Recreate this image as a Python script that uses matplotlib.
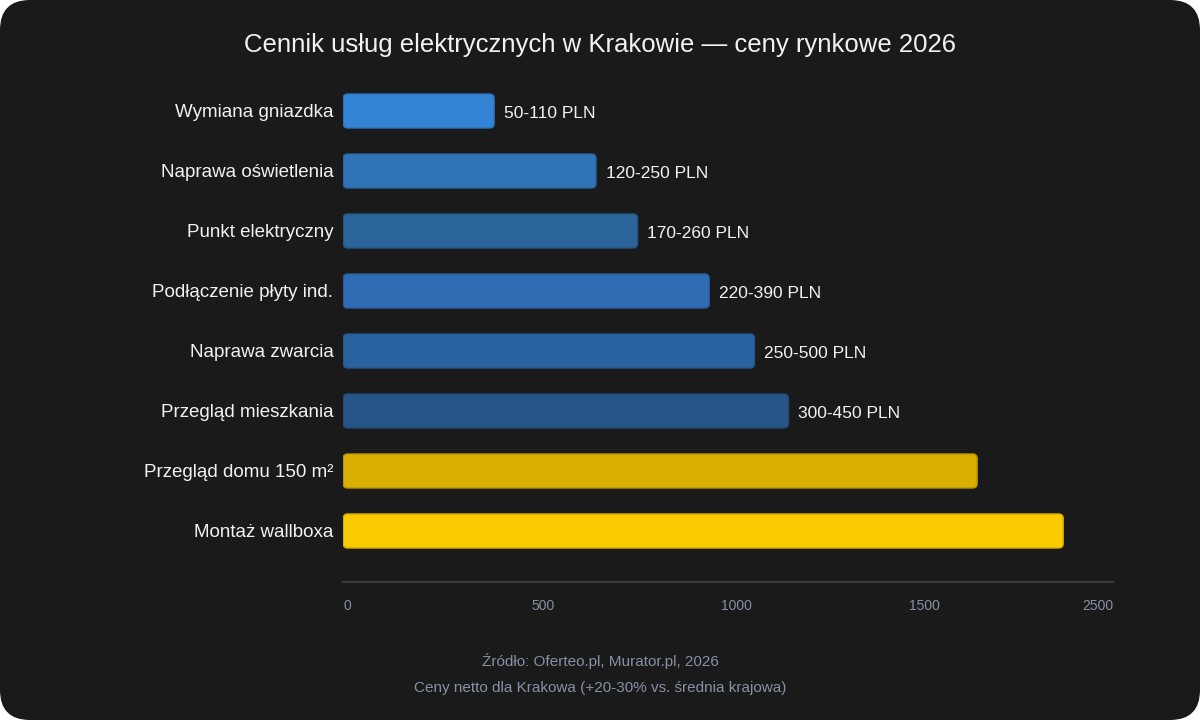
import matplotlib
matplotlib.use("Agg")
import matplotlib.pyplot as plt
from matplotlib.patches import FancyBboxPatch

plt.rcParams['font.family'] = ['Liberation Sans', 'DejaVu Sans']

services = ["Wymiana gniazdka", "Naprawa oświetlenia", "Punkt elektryczny",
            "Podłączenie płyty ind.", "Naprawa zwarcia", "Przegląd mieszkania",
            "Przegląd domu 150 m²", "Montaż wallboxa"]
values = [400, 670, 780, 970, 1090, 1180, 1680, 1908]
value_labels = ["50-110 PLN", "120-250 PLN", "170-260 PLN", "220-390 PLN",
                "250-500 PLN", "300-450 PLN", "", ""]
colors = ["#3384d4", "#2e74b7", "#2a6498", "#2e6db3", "#2a62a0", "#285588",
          "#d9af02", "#f9cb00"]
edge_colors = ["#2c72b8", "#28659e", "#245683", "#285e9b", "#24558a", "#224975",
               "#b89400", "#d8ae00"]
tick_values = [0, 500, 1000, 1500]
tick_labels = ["0", "500", "1000", "1500", "2500"]
x_max = 2040

title = "Cennik usług elektrycznych w Krakowie — ceny rynkowe 2026"
source = "Źródło: Oferteo.pl, Murator.pl, 2026"
note = "Ceny netto dla Krakowa (+20-30% vs. średnia krajowa)"

BG = "#1a1a1a"
MUTED = "#8591a5"

fig = plt.figure(figsize=(12, 7.2), dpi=100, facecolor="white")
fig.patches.append(FancyBboxPatch((0, 0), 1, 1, boxstyle="round,pad=0,rounding_size=0.025",
                                  transform=fig.transFigure, facecolor=BG, edgecolor="none",
                                  mutation_aspect=12 / 7.2, zorder=-5))

ax = fig.add_axes([0.286, 0.1917, 0.9275 - 0.286, 0.8875 - 0.1917])
ax.set_facecolor("none")
ax.set_zorder(2)

ylim = (7.85, -0.5)
ax_px_w = 1200 * (0.9275 - 0.286)
ax_px_h = 720 * (0.8875 - 0.1917)
aspect = (abs(ylim[0] - ylim[1]) / ax_px_h) / (x_max / ax_px_w)
radius = 4.5 * x_max / ax_px_w

bar_h = 0.567
for i, (v, c, ec) in enumerate(zip(values, colors, edge_colors)):
    ax.add_patch(FancyBboxPatch((0, i - bar_h / 2), v, bar_h,
                                boxstyle=f"round,pad=0,rounding_size={radius}",
                                mutation_aspect=aspect,
                                facecolor=c, edgecolor=ec, linewidth=1))
    if value_labels[i]:
        ax.annotate(value_labels[i], (v, i), xytext=(7, -1.5), textcoords="offset points",
                    va="center", ha="left", color="#f2f2f2", fontsize=12.5)

ax.set_xlim(0, x_max)
ax.set_ylim(*ylim)
ax.set_yticks(range(len(services)))
ax.set_yticklabels(services, color="#f2f2f2", fontsize=13.5)
ax.tick_params(axis="y", length=0, pad=7)

ax.set_xticks(tick_values + [x_max])
ax.set_xticklabels(tick_labels, color=MUTED, fontsize=10)
ax.tick_params(axis="x", length=0, pad=12)
for lbl in ax.get_xticklabels()[:-1]:
    lbl.set_horizontalalignment("left")
ax.get_xticklabels()[-1].set_horizontalalignment("right")

for side in ["top", "right", "left"]:
    ax.spines[side].set_visible(False)
ax.spines["bottom"].set_color("#3a3a3a")
ax.spines["bottom"].set_linewidth(1.5)

fig.text(0.5, 1 - 45 / 720, title, ha="center", va="center", color="#f2f2f2", fontsize=18.5)
fig.text(0.5, 1 - 661 / 720, source, ha="center", va="center", color=MUTED, fontsize=11)
fig.text(0.5, 1 - 688 / 720, note, ha="center", va="center", color=MUTED, fontsize=11)

fig.savefig("out.png", dpi=100, facecolor=fig.get_facecolor())
